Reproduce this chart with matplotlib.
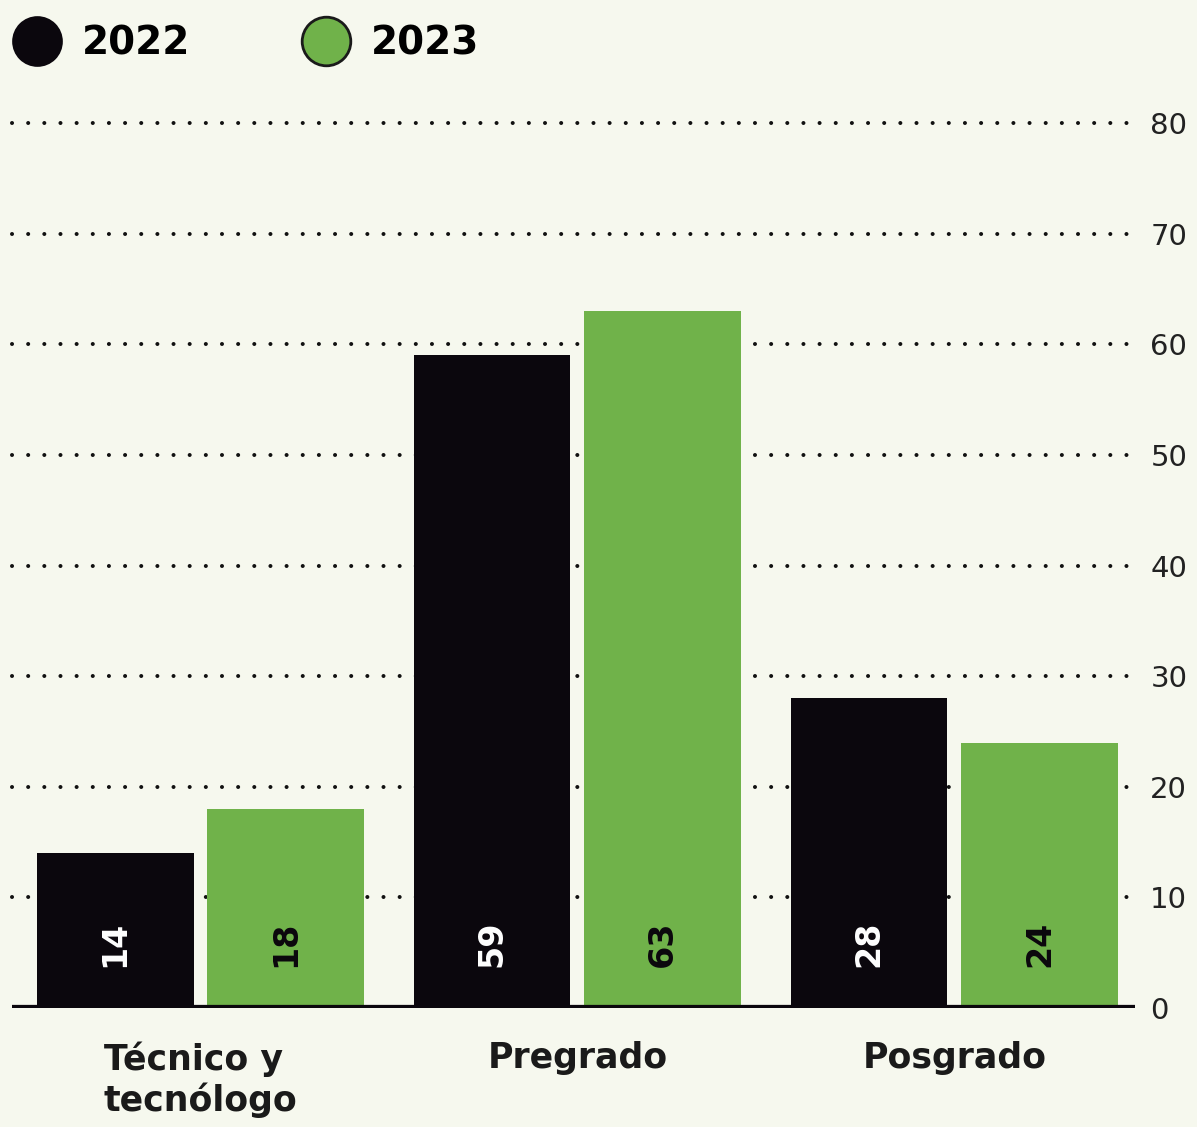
import numpy as np
import matplotlib.pyplot as plt
from matplotlib.lines import Line2D

# data
categories = ['Técnico y\ntecnólogo', 'Pregrado', 'Posgrado']
years = ['2022', '2023']
values_2022 = [14, 59, 28]
values_2023 = [18, 63, 24]
y_ticks = [0, 10, 20, 30, 40, 50, 60, 70, 80]

bg = '#f6f8ee'
black = '#0b070d'
green = '#70b24a'

fig = plt.figure(figsize=(11.97, 11.27), dpi=100, facecolor=bg)
ax = fig.add_axes([12 / 1197, 119 / 1127, (1135 - 12) / 1197, 907 / 1127])
ax.set_facecolor(bg)

x = np.arange(len(categories))
width = 0.416
offset = 0.2265

ax.bar(x - offset, values_2022, width, color=black, zorder=3)
ax.bar(x + offset, values_2023, width, color=green, zorder=3)

# dotted grid lines
for t in y_ticks[1:]:
    ax.axhline(t, color='#111111', lw=2.9, linestyle=(0, (0.01, 4.0)),
               dash_capstyle='round', zorder=1, clip_on=False)
ax.axhline(0, color=black, lw=4.5, zorder=4)

# value labels inside bars
for xi, v in zip(x - offset, values_2022):
    ax.text(xi, 5.8, str(v), rotation=90, ha='center', va='center',
            color='white', fontsize=24, fontweight='bold', zorder=5)
for xi, v in zip(x + offset, values_2023):
    ax.text(xi, 5.8, str(v), rotation=90, ha='center', va='center',
            color=black, fontsize=24, fontweight='bold', zorder=5)

ax.set_xlim(-0.5, 2.479)
ax.set_ylim(0, 82)
ax.yaxis.tick_right()
ax.set_yticks(y_ticks)
ax.set_yticklabels([str(t) for t in y_ticks], fontsize=21, color='#222222')
ax.tick_params(axis='y', length=0, pad=11)
ax.set_xticks(x)
ax.set_xticklabels(categories, fontsize=25, fontweight='bold', color='#1a1a1a',
                   multialignment='left', linespacing=1.2)
ax.tick_params(axis='x', length=0, pad=24)
for s in ax.spines.values():
    s.set_visible(False)

# legend
handles = [
    Line2D([], [], marker='o', ls='', ms=35, mfc=black, mec=black, mew=1.5),
    Line2D([], [], marker='o', ls='', ms=35, mfc=green, mec='#1a1a1a', mew=2),
]
fig.legend(handles, years, loc='upper left', bbox_to_anchor=(-0.031, 1.009),
           ncol=2, frameon=False, handletextpad=0.15,
           columnspacing=2.5, prop={'weight': 'bold', 'size': 28})

fig.savefig('out.png', dpi=100, facecolor=bg)
